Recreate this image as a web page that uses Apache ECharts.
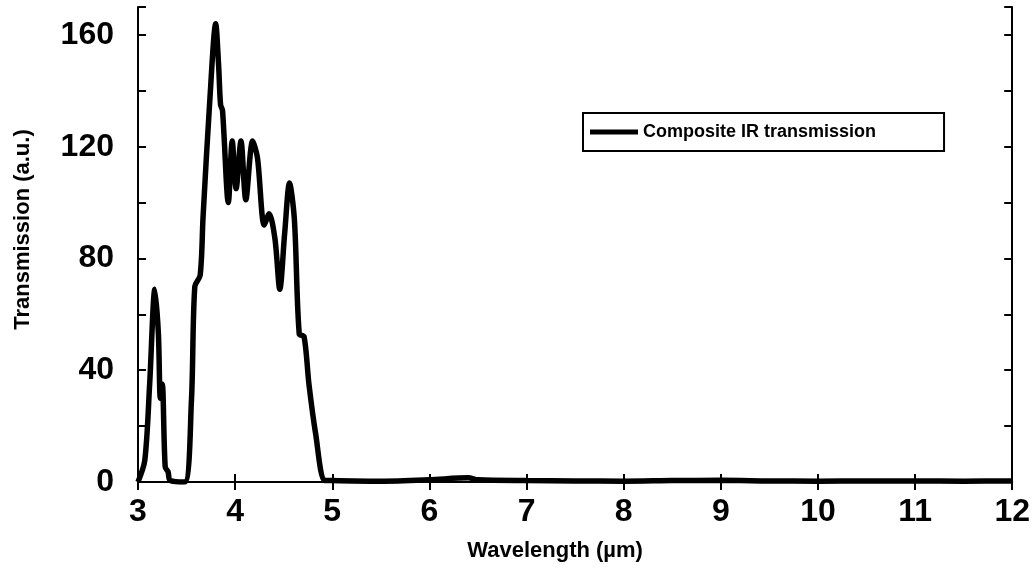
<!DOCTYPE html>
<html>
<head>
<meta charset="utf-8">
<script src="https://cdn.jsdelivr.net/npm/echarts@6/dist/echarts.min.js"></script>
<style>
  html, body { margin: 0; padding: 0; background: #fff; }
  #chart { width: 1033px; height: 569px; }
</style>
</head>
<body>
<div id="chart"></div>
<script>
// wavelength (um) and transmission (a.u.)
const wavelength = [
  3.0, 3.07, 3.12, 3.174, 3.21, 3.23, 3.25, 3.28, 3.31, 3.33, 3.48,
  3.55, 3.585, 3.64, 3.67, 3.74, 3.8, 3.83, 3.85, 3.87, 3.93,
  3.97, 4.01, 4.06, 4.11, 4.18, 4.23, 4.3, 4.35, 4.41, 4.46,
  4.51, 4.56, 4.61, 4.66, 4.71, 4.76, 4.83, 4.92,
  5.0, 5.5, 6.0, 6.4, 6.5, 7.0, 7.5, 8.0, 8.5, 9.0, 9.5, 10.0, 10.5, 11.0, 11.5, 12.0
];
const transmission = [
  0, 7.8, 35, 69, 53, 30, 35, 5.4, 3.6, 0.6, 0,
  29, 70, 74, 95, 137, 164, 149, 135, 133, 100,
  122, 105, 122, 101, 122, 116, 92, 96, 87, 69,
  89, 107, 94, 53, 52, 35, 17, 0.6,
  0.5, 0.3, 0.8, 1.5, 0.8, 0.5, 0.4, 0.3, 0.5, 0.6, 0.4, 0.3, 0.4, 0.4, 0.3, 0.4
];
const seriesName = 'Composite IR transmission';

const points = wavelength.map((x, i) => [x, transmission[i]]);
const textColor = '#000';
const font = 'Liberation Sans, Arial, sans-serif';

const chart = echarts.init(document.getElementById('chart'));
chart.setOption({
  animation: false,
  grid: { left: 138, right: 13, top: 7, bottom: 87 },
  legend: {
    left: 583,
    top: 113,
    orient: 'horizontal',
    data: [{ name: seriesName, icon: 'rect' }],
    itemWidth: 48,
    itemHeight: 5,
    padding: [10, 68, 10, 7],
    borderColor: '#000',
    borderWidth: 2,
    textStyle: { color: textColor, fontFamily: font, fontWeight: 'bold', fontSize: 18 }
  },
  xAxis: [{
    type: 'value',
    min: 3,
    max: 12,
    interval: 1,
    name: 'Wavelength (µm)',
    nameLocation: 'middle',
    nameGap: 58,
    nameTextStyle: { color: textColor, fontFamily: font, fontWeight: 'bold', fontSize: 22, padding: [0, 40, 0, 0] },
    axisLine: { lineStyle: { color: textColor, width: 2 } },
    axisTick: { inside: true, length: 8, lineStyle: { color: textColor, width: 2 } },
    axisLabel: { color: textColor, fontFamily: font, fontWeight: 'bold', fontSize: 32, margin: 14 },
    splitLine: { show: false }
  }, {
    type: 'value',
    position: 'top',
    min: 3,
    max: 12,
    interval: 1,
    axisLine: { lineStyle: { color: textColor, width: 2 } },
    axisTick: { inside: true, length: 8, lineStyle: { color: textColor, width: 2 } },
    axisLabel: { show: false },
    splitLine: { show: false }
  }],
  yAxis: [{
    type: 'value',
    min: 0,
    max: 170,
    interval: 40,
    name: 'Transmission (a.u.)',
    nameLocation: 'middle',
    nameGap: 104,
    nameTextStyle: { color: textColor, fontFamily: font, fontWeight: 'bold', fontSize: 22, padding: [0, 0, 0, 30] },
    axisLine: { show: true, lineStyle: { color: textColor, width: 2 } },
    axisTick: { inside: true, length: 8, lineStyle: { color: textColor, width: 2 } },
    minorTick: { show: true, splitNumber: 2, length: 8, lineStyle: { color: textColor, width: 2 } },
    axisLabel: { color: textColor, fontFamily: font, fontWeight: 'bold', fontSize: 32, margin: 24, showMaxLabel: false },
    splitLine: { show: false }
  }, {
    type: 'value',
    position: 'right',
    min: 0,
    max: 170,
    interval: 40,
    axisLine: { show: true, lineStyle: { color: textColor, width: 2 } },
    axisTick: { inside: true, length: 8, lineStyle: { color: textColor, width: 2 } },
    minorTick: { show: true, splitNumber: 2, length: 8, lineStyle: { color: textColor, width: 2 } },
    axisLabel: { show: false },
    splitLine: { show: false }
  }],
  series: [{
    name: seriesName,
    type: 'line',
    xAxisIndex: 0,
    yAxisIndex: 0,
    data: points,
    symbol: 'none',
    smooth: 0.3,
    lineStyle: { color: '#000', width: 5.5 },
    itemStyle: { color: '#000' }
  }]
});
</script>
</body>
</html>
